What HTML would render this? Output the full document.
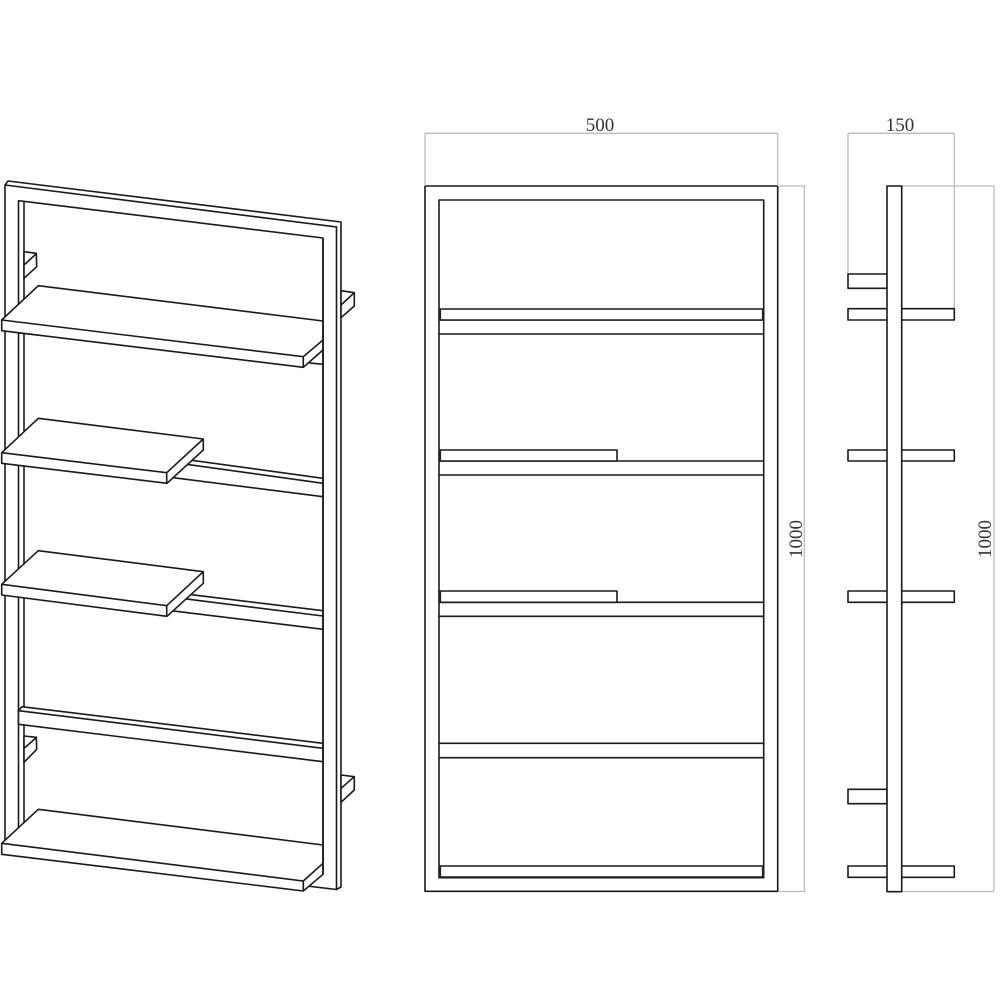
<!DOCTYPE html>
<html>
<head>
<meta charset="utf-8">
<style>
html,body{margin:0;padding:0;background:#fff;width:1000px;height:1000px;overflow:hidden}
svg{display:block}
text{font-family:"Liberation Serif",serif;font-size:19px;fill:#333;text-anchor:middle}
.k{fill:#fff;stroke:#1a1a1a;stroke-width:1.6;stroke-linejoin:round}
.l{fill:none;stroke:#1a1a1a;stroke-width:1.6}
.d{fill:none;stroke:#bbb;stroke-width:1.3}
.t{fill:#222;stroke:none}
</style>
</head>
<body>
<svg width="1000" height="1000" viewBox="0 0 1000 1000" xmlns="http://www.w3.org/2000/svg">
<!-- Perspective view: frame -->
<path class="k" d="M5 185 L8 181 L341 222 L341 887 L336.5 889.5 L5 850 Z"/>
<path class="l" d="M5 185 L336.5 227 L336.5 889.5"/>
<path class="k" d="M18.5 200.7 L323 238 L323 870 L18.5 835 Z"/>
<path class="l" d="M24 201.5 L24 835"/>
<!-- brackets -->
<path class="k" d="M24 251.7 L36.3 253.3 L36.7 266.7 L24 278.3 Z"/>
<path class="l" d="M24 265 L36.5 253.5"/>
<path class="k" d="M24 736 L36.3 737.3 L36.7 749.3 L24 762.3 Z"/>
<path class="l" d="M24 748.3 L36.5 737.5"/>
<path class="k" d="M341 290.7 L354.3 292.7 L354.3 306 L341 317.7 Z"/>
<path class="l" d="M341 305 L354.3 292.7"/>
<path class="k" d="M341 775 L354.3 776.7 L354.3 790 L341 802.3 Z"/>
<path class="l" d="M341 788.3 L354.3 776.7"/>
<!-- crossbars -->
<path class="k" d="M18.5 330 L323 351 L323 364.3 L18.5 333 Z"/>
<path class="k" d="M22 437 L323 478.3 L323 496.7 L18.5 458 L18.5 441 Z"/>
<path class="l" d="M18.5 441 L323 483.3"/>
<path class="k" d="M22 574 L323 610.7 L323 629.3 L18.5 592 L18.5 578 Z"/>
<path class="l" d="M18.5 578 L323 616"/>
<path class="k" d="M22 706.7 L323 743.3 L323 761.7 L18.5 724.3 L18.5 710.7 Z"/>
<path class="l" d="M18.5 710.7 L323 748.3"/>
<!-- shelf 1 -->
<path class="k" d="M38.3 285.7 L323 321 L323 350 L303.3 367.3 L1.7 330.7 L1.7 320 Z"/>
<path class="l" d="M1.7 320 L303.3 356.7 L323 340 M303.3 356.7 L303.3 367.3"/>
<!-- shelf 2 -->
<path class="k" d="M38.3 418.3 L203.3 439 L203.3 450 L167 483.3 L1.7 463.3 L1.7 452.7 Z"/>
<path class="l" d="M1.7 452.7 L166.7 472.7 L203.3 439 M166.7 472.7 L166.7 483.3"/>
<!-- shelf 3 -->
<path class="k" d="M38.3 550.7 L203.3 571.7 L203.3 583.3 L167 616.3 L1.7 595 L1.7 584.3 Z"/>
<path class="l" d="M1.7 584.3 L166.7 605.7 L203.3 571.7 M166.7 605.7 L166.7 616.3"/>
<!-- shelf 4 -->
<path class="k" d="M38.3 809.3 L323 845 L323 874.3 L303.3 891 L1.7 854.3 L1.7 843.3 Z"/>
<path class="l" d="M1.7 843.3 L303.3 881 L323 863.3 M303.3 881 L303.3 891"/>
<path class="l" d="M323 238 L323 875"/>

<!-- Front elevation -->
<rect class="k" x="425" y="186" width="352.7" height="705.3"/>
<rect class="k" x="439" y="200" width="324.7" height="677.7"/>
<path class="l" d="M439 320 H763.7 M439 334 H763.7"/>
<rect class="k" x="440.3" y="309" width="322.4" height="11"/>
<path class="l" d="M439 461 H763.7 M439 475 H763.7"/>
<rect class="k" x="440.3" y="450" width="176.7" height="11"/>
<path class="l" d="M439 602.3 H763.7 M439 616.3 H763.7"/>
<rect class="k" x="440.3" y="591" width="176.7" height="11.3"/>
<path class="l" d="M439 743.3 H763.7 M439 757.7 H763.7"/>
<rect class="k" x="440.3" y="866" width="322.4" height="11"/>
<!-- thickened shelf ends where shelf meets frame -->
<rect class="t" x="439" y="309" width="2" height="11"/>
<rect class="t" x="762" y="309" width="2" height="11"/>
<rect class="t" x="439" y="450" width="2" height="11"/>
<rect class="t" x="439" y="591" width="2" height="11"/>
<rect class="t" x="439" y="866" width="2" height="11"/>
<rect class="t" x="762" y="866" width="2" height="11"/>

<!-- Front dims -->
<path class="d" d="M425 133.3 H777.7 M425 133.3 V186 M777.7 133.3 V186 M779 186 H805 M779 891.5 H805 M804.3 186 V891.5"/>
<text x="600" y="131">500</text>
<text transform="translate(802 539) rotate(-90)" x="0" y="0">1000</text>

<!-- Side elevation -->
<path class="d" d="M848 133.3 H954.3 M848 133.3 V274 M954.3 133.3 V309 M902 186 H994 M994 186 V891.5 M902 891.5 H994"/>
<text x="900" y="131">150</text>
<text transform="translate(991 539) rotate(-90)" x="0" y="0">1000</text>
<rect class="k" x="848" y="274" width="39" height="14.3"/>
<rect class="k" x="848" y="789.3" width="39" height="14.4"/>
<rect class="k" x="848" y="308.7" width="106.3" height="11.3"/>
<rect class="k" x="848" y="450" width="106.3" height="11"/>
<rect class="k" x="848" y="591" width="106.3" height="11.3"/>
<rect class="k" x="848" y="866" width="106.3" height="11.3"/>
<rect class="k" x="887" y="186" width="14.7" height="705.7"/>
</svg>
</body>
</html>
